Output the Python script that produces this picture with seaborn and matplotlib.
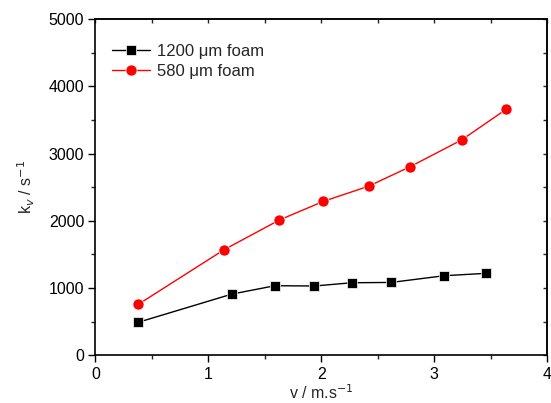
import matplotlib
matplotlib.use("Agg")
import matplotlib.pyplot as plt
from matplotlib.ticker import MultipleLocator
import seaborn as sns
import pandas as pd

# Velocity (m/s) and volumetric rate constant k_v (1/s) for two foam pore sizes
v_1200 = [0.375, 1.21, 1.59, 1.94, 2.27, 2.62, 3.09, 3.46]
k_1200 = [490, 912, 1036, 1032, 1080, 1085, 1185, 1220]
v_580 = [0.38, 1.14, 1.63, 2.02, 2.42, 2.79, 3.245, 3.64]
k_580 = [759, 1571, 2013, 2290, 2515, 2807, 3204, 3661]
labels = ["1200 \u03bcm foam", "580 \u03bcm foam"]

sns.set_theme(style="ticks")
plt.rcParams["font.family"] = ["Liberation Sans", "DejaVu Sans"]

fig = plt.figure(figsize=(5.51, 4.03), dpi=100)
ax = fig.add_axes([0.173, 0.118, 0.820, 0.835])

df1 = pd.DataFrame({"v": v_1200, "k": k_1200})
df2 = pd.DataFrame({"v": v_580, "k": k_580})

sns.lineplot(data=df1, x="v", y="k", ax=ax, color="black", marker="s",
             markersize=7, markeredgecolor="white", markeredgewidth=0.5,
             linewidth=1.0, label=labels[0])
sns.lineplot(data=df2, x="v", y="k", ax=ax, color="#ff0000", marker="o",
             markersize=8, markeredgecolor="white", markeredgewidth=0.5,
             linewidth=1.0, label=labels[1])

ax.set_xlim(0, 4)
ax.set_ylim(0, 5000)
ax.xaxis.set_major_locator(MultipleLocator(1))
ax.xaxis.set_minor_locator(MultipleLocator(0.5))
ax.yaxis.set_major_locator(MultipleLocator(1000))
ax.yaxis.set_minor_locator(MultipleLocator(500))

for s in ax.spines.values():
    s.set_visible(True)
    s.set_linewidth(1.2)
    s.set_color("black")

ax.tick_params(which="major", direction="out", length=5, width=1.0,
               labelsize=11.5, colors="black", pad=3)
ax.tick_params(which="minor", direction="out", length=3, width=1.0)

# short inward ticks on the top and right frame
top = ax.secondary_xaxis("top")
top.xaxis.set_major_locator(MultipleLocator(0.5))
top.tick_params(direction="in", length=3, width=1.0, labeltop=False)
top.spines["top"].set_linewidth(1.2)
right = ax.secondary_yaxis("right")
right.yaxis.set_major_locator(MultipleLocator(500))
right.tick_params(direction="in", length=3, width=1.0, labelright=False)
right.spines["right"].set_linewidth(1.2)

ax.set_xlabel("v / m.s$^{-1}$", fontsize=11.5, labelpad=1)
ax.set_ylabel("k$_v$ / s$^{-1}$", fontsize=11.5, labelpad=8)

leg = ax.legend(loc="upper left", frameon=False, fontsize=12,
                bbox_to_anchor=(0.0, 0.975), handlelength=2.3,
                handletextpad=0.4, labelspacing=0.3, borderaxespad=0.6)

fig.savefig("out.png", dpi=100)
